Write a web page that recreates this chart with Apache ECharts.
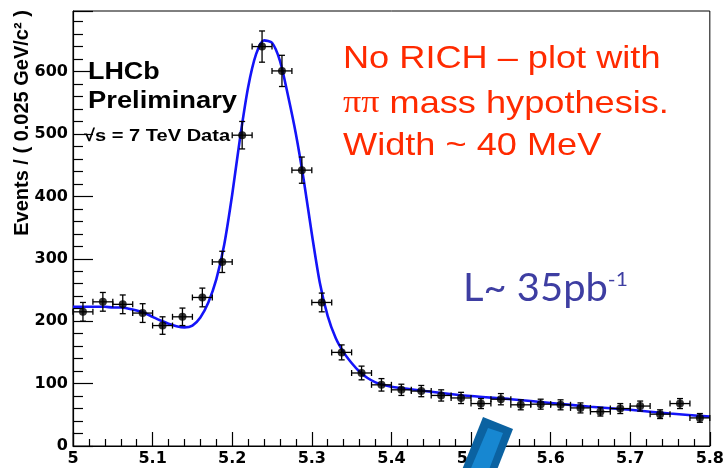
<!DOCTYPE html>
<html>
<head>
<meta charset="utf-8">
<script src="https://cdn.jsdelivr.net/npm/echarts@6/dist/echarts.min.js"></script>
<style>
  html, body { margin: 0; padding: 0; background: #fff; }
  #chart { width: 727px; height: 468px; }
</style>
</head>
<body>
<div id="chart"></div>
<script>
// Invariant mass bins (GeV/c^2), bin width 0.025
const massBins = [5.0125, 5.0375, 5.0625, 5.0875, 5.1125, 5.1375, 5.1625, 5.1875,
                  5.2125, 5.2375, 5.2625, 5.2875, 5.3125, 5.3375, 5.3625, 5.3875,
                  5.4125, 5.4375, 5.4625, 5.4875, 5.5125, 5.5375, 5.5625, 5.5875,
                  5.6125, 5.6375, 5.6625, 5.6875, 5.7125, 5.7375, 5.7625, 5.7875];
// Candidates per bin
const counts = [215, 231, 227, 213, 193, 207, 238, 295,
                498, 640, 601, 442, 230, 150, 117, 98,
                90, 88, 81, 77, 68, 75, 66, 67,
                66, 61, 55, 60, 64, 51, 68, 45];
// Statistical uncertainty per bin
const countErrors = [15, 15, 15, 15, 14, 14, 15, 17,
                     22, 25, 25, 21, 15, 12, 11, 10,
                     9, 9, 9, 9, 8, 9, 8, 8,
                     8, 8, 7, 8, 8, 7, 8, 7];
const binHalfWidth = 0.0125;

// Fitted signal + background model
const fitMass  = [5.00, 5.01, 5.02, 5.03, 5.04, 5.05, 5.06, 5.07, 5.08, 5.09,
                  5.10, 5.11, 5.12, 5.13, 5.14, 5.15, 5.16, 5.17, 5.18, 5.19,
                  5.20, 5.21, 5.22, 5.23, 5.24, 5.25, 5.26, 5.27, 5.28, 5.29,
                  5.30, 5.31, 5.32, 5.33, 5.34, 5.35, 5.36, 5.37, 5.38, 5.39,
                  5.40, 5.45, 5.50, 5.55, 5.60, 5.65, 5.70, 5.75, 5.80];
const fitValue = [223, 223, 223, 223, 223, 222, 222, 220, 217, 213,
                  207, 201, 196, 192, 190, 193, 206, 230, 267, 323,
                  403, 495, 575, 628, 650, 646, 617, 562, 500, 425,
                  340, 262, 208, 173, 150, 133, 119, 109, 102, 98,
                  95, 87, 80, 75, 69, 63, 58, 52, 47];

const xTicks = { min: 5, max: 5.8, step: 0.1 };
const yTicks = { min: 0, max: 697, step: 100 };

const chart = echarts.init(document.getElementById('chart'), null, { renderer: 'canvas' });

const labelFont = { fontFamily: 'DejaVu Sans', fontWeight: 'bold', fontSize: 16, color: '#000' };

const option = {
  animation: false,
  backgroundColor: '#fff',
  grid: { left: 73, right: 14, top: 11, bottom: 22, show: true, borderColor: '#000', borderWidth: 1 },
  xAxis: {
    type: 'value', min: xTicks.min, max: xTicks.max, interval: xTicks.step,
    axisLine: { lineStyle: { color: '#000', width: 1.2 } },
    axisTick: { inside: true, length: 14, lineStyle: { color: '#000', width: 1.2 } },
    minorTick: { show: true, splitNumber: 5, length: 7, lineStyle: { color: '#000', width: 1.2 } },
    axisLabel: Object.assign({ margin: 5, showMaxLabel: true }, labelFont),
    splitLine: { show: false }
  },
  yAxis: {
    type: 'value', min: yTicks.min, max: yTicks.max, interval: yTicks.step,
    axisLine: { show: true, lineStyle: { color: '#000', width: 1.2 } },
    axisTick: { inside: true, length: 20, lineStyle: { color: '#000', width: 1.2 } },
    minorTick: { show: true, splitNumber: 5, length: 10, lineStyle: { color: '#000', width: 1.2 } },
    axisLabel: Object.assign({ margin: 5, showMaxLabel: false }, labelFont),
    splitLine: { show: false }
  },
  series: [
    {
      type: 'line',
      data: fitMass.map((m, i) => [m, fitValue[i]]),
      smooth: 0.25,
      showSymbol: false,
      lineStyle: { color: '#1414f8', width: 2.6 },
      z: 2
    },
    {
      type: 'custom',
      data: massBins.map((m, i) => [m, counts[i], countErrors[i]]),
      renderItem: function (params, api) {
        const m = api.value(0), n = api.value(1), e = api.value(2);
        const c = api.coord([m, n]);
        const top = api.coord([m, n + e]);
        const bot = api.coord([m, n - e]);
        const lft = api.coord([m - binHalfWidth, n]);
        const rgt = api.coord([m + binHalfWidth, n]);
        const cap = 3;
        const st = { stroke: '#000', lineWidth: 1.3 };
        const seg = (x1, y1, x2, y2) => ({ type: 'line', shape: { x1, y1, x2, y2 }, style: st });
        return {
          type: 'group',
          children: [
            seg(c[0], top[1], c[0], bot[1]),
            seg(c[0] - cap, top[1], c[0] + cap, top[1]),
            seg(c[0] - cap, bot[1], c[0] + cap, bot[1]),
            seg(lft[0], c[1], rgt[0], c[1]),
            seg(lft[0], c[1] - cap, lft[0], c[1] + cap),
            seg(rgt[0], c[1] - cap, rgt[0], c[1] + cap)
          ]
        };
      },
      z: 3
    },
    {
      type: 'scatter',
      data: massBins.map((m, i) => [m, counts[i]]),
      symbol: 'circle',
      symbolSize: 8,
      itemStyle: { color: '#000' },
      z: 4
    }
  ],
  graphic: [
    {
      type: 'text', x: 22, y: 123, rotation: Math.PI / 2,
      style: { text: 'Events / ( 0.025 GeV/c² )', font: 'bold 20px "Liberation Sans"', fill: '#000', align: 'center', verticalAlign: 'middle' }
    },
    {
      type: 'text', x: 88, y: 72, scaleX: 1.12,
      style: { text: 'LHCb', font: 'bold 24px "Liberation Sans"', fill: '#000', verticalAlign: 'middle' }
    },
    {
      type: 'text', x: 88, y: 101, scaleX: 1.14,
      style: { text: 'Preliminary', font: 'bold 24px "Liberation Sans"', fill: '#000', verticalAlign: 'middle' }
    },
    {
      type: 'text', x: 84, y: 136, scaleX: 1.18,
      style: { text: '√s = 7 TeV Data', font: 'bold 17px "Liberation Sans"', fill: '#000', verticalAlign: 'middle' }
    },
    {
      type: 'text', x: 343, y: 59, scaleX: 1.13,
      style: { text: 'No RICH – plot with', font: '32px "Liberation Sans"', fill: '#ff2a00', verticalAlign: 'middle' }
    },
    {
      type: 'text', x: 343, y: 104, scaleX: 1.13,
      style: {
        text: '{pi|ππ} mass hypothesis.',
        font: '32px "Liberation Sans"', fill: '#ff2a00', verticalAlign: 'middle',
        rich: { pi: { fontFamily: 'Liberation Serif', fontSize: 32, fill: '#ff2a00' } }
      }
    },
    {
      type: 'text', x: 343, y: 146, scaleX: 1.13,
      style: { text: 'Width ~ 40 MeV', font: '32px "Liberation Sans"', fill: '#ff2a00', verticalAlign: 'middle' }
    },
    {
      type: 'text', x: 463, y: 289, scaleX: 1.05,
      style: {
        text: 'L~ 35pb{sup|-1}',
        font: '38px Lato', fill: '#3e3ea2', verticalAlign: 'middle',
        rich: { sup: { fontFamily: 'Lato', fontSize: 20, fill: '#3e3ea2', verticalAlign: 'top', padding: [0, 0, 18, 0] } }
      }
    },
    {
      type: 'polygon', z: 100,
      shape: { points: [[483, 417], [513, 429], [493, 480], [458, 480]] },
      style: { fill: '#0b62a1' }
    },
    {
      type: 'polygon', z: 101,
      shape: { points: [[488, 428], [503, 433], [485, 480], [466, 480]] },
      style: { fill: '#1787d1' }
    }
  ]
};

chart.setOption(option);
</script>
</body>
</html>
